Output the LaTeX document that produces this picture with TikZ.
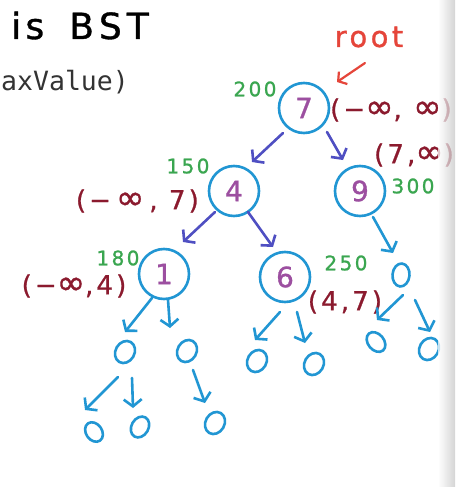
\documentclass[tikz,border=0pt]{standalone}
\usepackage{fontspec}
\setmainfont{DejaVu Sans}
\newfontfamily\hand[LetterSpace=12,FakeBold=1]{DejaVu Sans}
\newfontfamily\monof{DejaVu Sans Mono}
\newcommand{\bigInf}{{\fontsize{34}{34}\selectfont ∞}}
\usetikzlibrary{arrows.meta,shapes.geometric,calc}
\definecolor{cblue}{HTML}{2196D3}
\definecolor{cindigo}{HTML}{4F4FC2}
\definecolor{cpurple}{HTML}{9C4FA0}
\definecolor{cgreen}{HTML}{3AA650}
\definecolor{cdred}{HTML}{8B1A2E}
\definecolor{cred}{HTML}{E5453A}
\definecolor{cmono}{HTML}{333333}
\begin{document}
\begin{tikzpicture}[x=1pt,y=1pt,
  bnode/.style={circle,draw=cblue,line width=2.6pt,minimum size=50pt,inner sep=0pt,text=cpurple,font=\hand\fontsize{28}{28}\selectfont},
  leaf/.style={ellipse,draw=cblue,line width=2.6pt,minimum width=23pt,minimum height=19pt,inner sep=0pt,rotate=60},
  tree/.style={draw=cblue,line width=2.6pt,line cap=round,line join=round,-{Straight Barb[length=7pt,width=18pt]}},
  treeu/.style={tree,draw=cindigo},
  glab/.style={text=cgreen,font=\hand\fontsize{20}{20}\selectfont,inner sep=0pt},
  rlab/.style={text=cdred,font=\hand\fontsize{26}{26}\selectfont,inner sep=0pt},
]
\fill[white] (0,0) rectangle (455,-487);
\useasboundingbox (0,0) rectangle (455,-487);

% header texts
\node[anchor=base west,inner sep=0pt,font=\hand\fontsize{36}{36}\selectfont] (title) at (11,-39) {is\hspace{25pt}B\hspace{5pt}S\hspace{5pt}T};
\node[anchor=base west,inner sep=0pt,text=cmono,font=\monof\fontsize{26.5}{26.5}\selectfont] (code) at (1,-90) {axValue)};
\node[inner sep=0pt,text=cred,font=\hand\fontsize{29}{29}\selectfont] (root) at (369,-37) {root};

% main nodes
\node[bnode] (n7) at (304,-108) {7};
\node[bnode] (n4) at (234,-191) {4};
\node[bnode] (n9) at (360,-191) {9};
\node[bnode] (n1) at (164,-274) {1};
\node[bnode] (n6) at (285,-277) {6};

% leaves
\node[leaf,minimum width=23pt,minimum height=17pt,rotate=25] (a) at (401,-275) {};
\node[leaf] (o1) at (125,-352) {};
\node[leaf] (o2) at (187,-351) {};
\node[leaf] (o6) at (257,-361) {};
\node[leaf] (o7) at (314,-364) {};
\node[leaf,minimum width=22pt,minimum height=16pt,rotate=70] (o8) at (376,-342) {};
\node[leaf] (o9) at (429,-349) {};
\node[leaf,minimum width=21pt,minimum height=16pt,rotate=65] (o3) at (94,-432) {};
\node[leaf,minimum width=22pt,minimum height=17pt] (o4) at (140,-427) {};
\node[leaf] (o5) at (215,-423) {};

% green labels
\node[glab] (g7) at (255,-89) {200};
\node[glab] (g4) at (188,-166) {150};
\node[glab] (g9) at (413,-186) {300};
\node[glab] (g1) at (118,-258) {180};
\node[glab] (g6) at (346,-263) {250};

% red range labels
\node[rlab,anchor=west] (r7) at (330,-110) {(−\bigInf, \bigInf)};
\node[rlab,anchor=east] (r4) at (199,-201) {(−\hspace{5pt}\bigInf\hspace{5pt}, 7)};
\node[rlab] (r9) at (414,-155) {(7,\bigInf)};
\node[rlab] (r1) at (74,-286) {(−\bigInf,4)};
\node[rlab] (r6) at (345,-302) {(4,7)};

% root pointer
\draw[draw=cred,line width=2.2pt,line cap=round,line join=round,-{Straight Barb[length=6pt,width=15pt]}]
  ($(root)+(-4,-26)$) -- ($(n7)+(33,26)$);

% edges
\draw[treeu] ($(n7)+(-21,-25)$) -- ($(n4)+(18,29)$);
\draw[treeu] ($(n7)+(23,-24)$) -- ($(n9)+(-17,31)$);
\draw[treeu] ($(n4)+(-19,-21)$) -- ($(n1)+(19,32)$);
\draw[treeu] ($(n4)+(14,-21)$) -- ($(n6)+(-12,30)$);
\draw[tree] ($(n9)+(13,-26)$) -- ($(a)+(-8,22)$);
\draw[tree] ($(n1)+(-12,-24)$) -- ($(o1)+(0,20)$);
\draw[tree] ($(n1)+(4,-26)$) -- ($(o2)+(-17,23)$);
\draw[tree] ($(n6)+(-5,-35)$) -- ($(o6)+(-2,21)$);
\draw[tree] ($(n6)+(12,-35)$) -- ($(o7)+(-9,21)$);
\draw[tree] ($(a)+(2,-20)$) -- ($(o8)+(1,22)$);
\draw[tree] ($(a)+(14,-25)$) -- ($(o9)+(1,17)$);
\draw[tree] ($(o1)+(-7,-25)$) -- ($(o3)+(-9,22)$);
\draw[tree] ($(o1)+(7,-26)$) -- ($(o4)+(-7,19)$);
\draw[tree] ($(o2)+(6,-19)$) -- ($(o5)+(-10,20)$);

% grey edge strip
\shade[left color=white,right color=black!22,opacity=0.75] (438,0) rectangle (455,-487);
\end{tikzpicture}
\end{document}
